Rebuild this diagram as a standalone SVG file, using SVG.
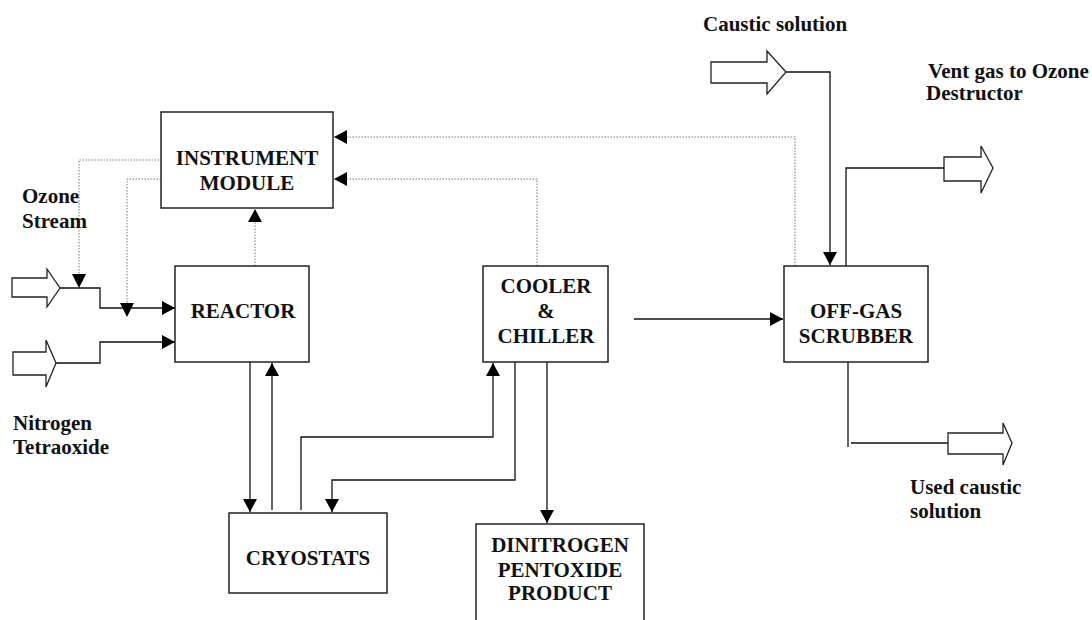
<svg xmlns="http://www.w3.org/2000/svg" width="1092" height="620" viewBox="0 0 1092 620">
<style>
.box{fill:#fff;stroke:#222;stroke-width:1.5}
.t{font-family:"Liberation Serif","Times New Roman",serif;font-weight:bold;font-size:21px;fill:#111}
.c{text-anchor:middle}
.ln{fill:none;stroke:#111;stroke-width:1.3}
.dt{fill:none;stroke:#777;stroke-width:1;stroke-dasharray:1.5 1.5}
.ha{fill:#fff;stroke:#222;stroke-width:1.3}
</style>
<defs>
<marker id="ah" markerWidth="14" markerHeight="14" viewBox="0 0 14 14" refX="13" refY="7" orient="auto" markerUnits="userSpaceOnUse">
<path d="M0,0 L13,7 L0,14 Z" fill="#000"/>
</marker>
</defs>
<rect width="1092" height="620" fill="#fff"/>

<g id="connectors">
<!-- Ozone stream feed -->
<path class="ln" d="M60,288 H100 V308 H175" marker-end="url(#ah)"/>
<!-- Nitrogen tetraoxide feed -->
<path class="ln" d="M56,363 H100 V342 H175" marker-end="url(#ah)"/>
<!-- instrument dotted to ozone -->
<path class="dt" d="M177,160 H79 V287"/>
<path d="M72,274 L86,274 L79,288 Z" fill="#000"/>
<path class="dt" d="M161,179 H127 V316"/>
<path d="M120,303 L134,303 L127,317 Z" fill="#000"/>
<!-- reactor to instrument dotted -->
<path class="dt" d="M255,266 V209" marker-end="url(#ah)"/>
<!-- cooler to instrument dotted -->
<path class="dt" d="M537,266 V179 H334" marker-end="url(#ah)"/>
<!-- scrubber to instrument dotted -->
<path class="dt" d="M795,266 V137 H334" marker-end="url(#ah)"/>
<!-- reactor <-> cryostats -->
<path class="ln" d="M250,362 V512" marker-end="url(#ah)"/>
<path class="ln" d="M272,510 V363" marker-end="url(#ah)"/>
<!-- cryostats -> cooler -->
<path class="ln" d="M301,510 V437 H493 V363" marker-end="url(#ah)"/>
<!-- cooler -> cryostats -->
<path class="ln" d="M515,362 V480 H332 V512" marker-end="url(#ah)"/>
<!-- cooler -> product -->
<path class="ln" d="M547,362 V523" marker-end="url(#ah)"/>
<!-- cooler -> scrubber -->
<path class="ln" d="M634,319 H783" marker-end="url(#ah)"/>
<!-- caustic -> scrubber -->
<path class="ln" d="M786,72 H830 V265" marker-end="url(#ah)"/>
<!-- scrubber -> vent -->
<path class="ln" d="M846,266 V168 H944"/>
<!-- scrubber -> used caustic -->
<path class="ln" d="M848,362 V447"/>
<path class="ln" d="M851,443 H948"/>
</g>

<g id="ozone-arrow"><polygon class="ha" points="12,278 47,278 47,269 60,288 47,307 47,297 12,297"/></g>
<g id="nitrogen-arrow"><polygon class="ha" points="13,352 46,352 46,340 56,363 46,387 46,375 13,375"/></g>
<g id="caustic-arrow"><polygon class="ha" points="711,62 767,62 767,51 786,72 767,94 767,83 711,83"/></g>
<g id="vent-arrow"><polygon class="ha" points="944,157 981,157 981,146 993,168 981,193 981,181 944,181"/></g>
<g id="used-arrow"><polygon class="ha" points="948,433 1003,433 1003,423 1012,443 1003,465 1003,454 948,454"/></g>

<g id="instrument-module">
<rect class="box" x="161" y="112" width="172" height="96"/>
<text class="t c" x="247" y="165">INSTRUMENT</text>
<text class="t c" x="247" y="190">MODULE</text>
</g>
<g id="reactor">
<rect class="box" x="175" y="266" width="134" height="96"/>
<text class="t c" x="243" y="318">REACTOR</text>
</g>
<g id="cooler-chiller">
<rect class="box" x="483" y="266" width="125" height="96"/>
<text class="t c" x="546" y="293">COOLER</text>
<text class="t c" x="546" y="318">&amp;</text>
<text class="t c" x="546" y="343">CHILLER</text>
</g>
<g id="cryostats">
<rect class="box" x="229" y="513" width="158" height="80"/>
<text class="t c" x="308" y="565">CRYOSTATS</text>
</g>
<g id="product">
<rect class="box" x="476" y="524" width="168" height="100"/>
<text class="t c" x="560" y="552">DINITROGEN</text>
<text class="t c" x="560" y="577">PENTOXIDE</text>
<text class="t c" x="560" y="600">PRODUCT</text>
</g>
<g id="scrubber">
<rect class="box" x="784" y="266" width="144" height="96"/>
<text class="t c" x="856" y="318">OFF-GAS</text>
<text class="t c" x="856" y="343">SCRUBBER</text>
</g>

<g id="labels">
<text class="t" x="22" y="203">Ozone</text>
<text class="t" x="22" y="228">Stream</text>
<text class="t" x="13" y="430">Nitrogen</text>
<text class="t" x="13" y="454">Tetraoxide</text>
<text class="t" x="703" y="31">Caustic solution</text>
<text class="t" x="928" y="78">Vent gas to Ozone</text>
<text class="t" x="926" y="100">Destructor</text>
<text class="t" x="910" y="494">Used caustic</text>
<text class="t" x="910" y="518">solution</text>
</g>
</svg>
